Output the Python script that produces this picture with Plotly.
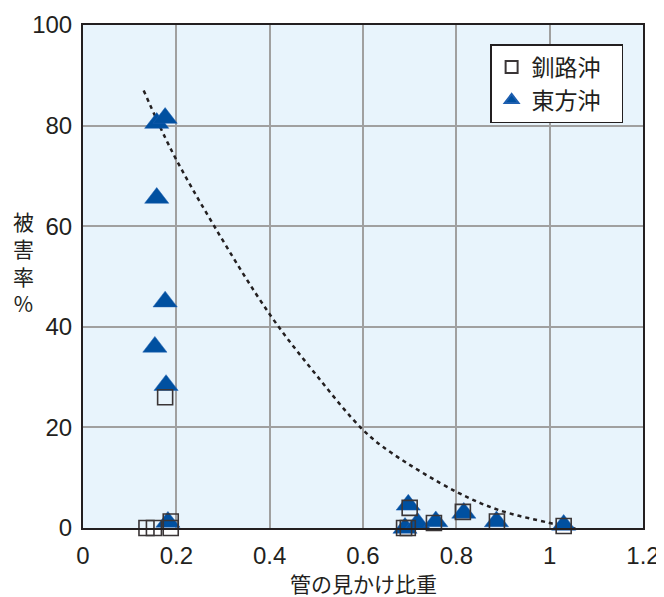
import plotly.graph_objects as go

# 東方沖 (triangles)
tohoku_x = [0.158, 0.176, 0.158, 0.176, 0.154, 0.178, 0.182, 0.697, 0.690, 0.717, 0.756, 0.816, 0.886, 1.030]
tohoku_y = [80.5, 81.5, 65.6, 45.0, 36.0, 28.4, 1.2, 4.6, 0.0, 1.0, 1.3, 3.0, 1.3, 0.6]

# 釧路沖 (squares)
kushiro_x = [0.176, 0.136, 0.152, 0.188, 0.188, 0.700, 0.688, 0.696, 0.752, 0.814, 0.887, 1.030]
kushiro_y = [26.0, 0.0, 0.0, 1.3, 0.0, 4.0, 0.0, 0.0, 1.0, 3.2, 1.3, 0.4]

# dashed trend curve
curve_x = [0.13, 0.19, 0.28, 0.40, 0.50, 0.60, 0.66, 0.80, 0.89, 1.00, 1.05, 1.07]
curve_y = [87.0, 75.0, 60.2, 42.5, 30.4, 19.5, 15.0, 7.2, 3.6, 1.0, 0.0, -0.8]

x_ticks = [0, 0.2, 0.4, 0.6, 0.8, 1.0, 1.2]
x_tick_labels = ["0", "0.2", "0.4", "0.6", "0.8", "1", "1.2"]
y_ticks = [0, 20, 40, 60, 80, 100]

FONT = "Liberation Sans, Noto Sans CJK JP, sans-serif"
JFONT = "Noto Sans CJK JP, sans-serif"
TXT = "#231F20"
BLUE = "#0050A0"

fig = go.Figure()
fig.add_trace(go.Scatter(
    x=curve_x, y=curve_y, mode="lines", line_shape="spline",
    line=dict(color=TXT, width=2.5, dash="4px,4px"), showlegend=False,
    hoverinfo="skip", cliponaxis=False))
fig.add_trace(go.Scatter(
    x=tohoku_x, y=tohoku_y, mode="markers", name="東方沖\u00a0\u00a0\u00a0", legendrank=2,
    marker=dict(symbol="triangle-up", size=21, color=BLUE,
                line=dict(color="#1E5FB0", width=0.5)),
    cliponaxis=False))
fig.add_trace(go.Scatter(
    x=kushiro_x, y=kushiro_y, mode="markers", name="釧路沖\u00a0\u00a0\u00a0", legendrank=1,
    marker=dict(symbol="square-open", size=15, color="#3A3536",
                line=dict(color="#3A3536", width=1.6)),
    cliponaxis=False))

# The page body has an 8px margin, so the figure is made 8px smaller
fig.update_layout(
    width=656, height=589,
    margin=dict(l=75, r=21, t=17, b=69, autoexpand=False),
    paper_bgcolor="white", plot_bgcolor="#E8F4FC",
    font=dict(family=FONT, size=24, color=TXT),
    showlegend=True,
    legend=dict(x=0.727, y=0.962, xanchor="left", yanchor="top",
                bgcolor="white", bordercolor=TXT, borderwidth=1.5,
                font=dict(family=JFONT, size=23, color=TXT),
                itemsizing="constant", tracegroupgap=0),
    xaxis=dict(range=[0, 1.2], tickvals=x_ticks, ticktext=x_tick_labels,
               showgrid=True, gridcolor="#A0A0A0", gridwidth=2,
               showline=True, linecolor=TXT, linewidth=2, mirror=True,
               ticks="outside", ticklen=5, tickcolor="rgba(0,0,0,0)",
               zeroline=False, automargin=False),
    yaxis=dict(range=[0, 100], tickvals=y_ticks,
               showgrid=True, gridcolor="#A0A0A0", gridwidth=2,
               showline=True, linecolor=TXT, linewidth=2, mirror=True,
               ticks="outside", ticklen=4, tickcolor="rgba(0,0,0,0)",
               zeroline=False, automargin=False),
    annotations=[
        dict(text="被<br>害<br>率<br>%", xref="paper", yref="paper",
             x=-0.107, y=0.529, xanchor="center", yanchor="middle",
             showarrow=False, align="center",
             font=dict(family=JFONT, size=21, color=TXT)),
        dict(text="管の見かけ比重", xref="paper", yref="paper",
             x=0.5, y=-0.109, xanchor="center", yanchor="middle",
             showarrow=False,
             font=dict(family=JFONT, size=21, color=TXT)),
    ],
)

fig.write_html("out.html")
